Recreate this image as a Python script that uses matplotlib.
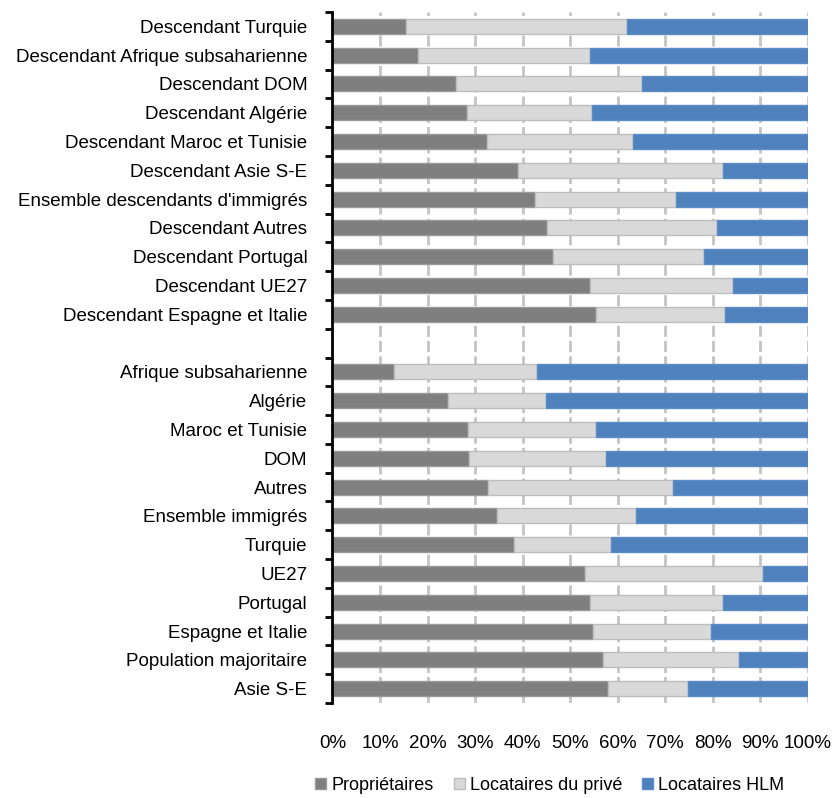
import matplotlib
matplotlib.use("Agg")
import matplotlib.pyplot as plt
from matplotlib.patches import Patch
import numpy as np

plt.rcParams["font.family"] = ["Liberation Sans", "DejaVu Sans"]

# Descendants of immigrants (top block), then immigrants and majority population
categories_desc = [
    "Descendant Turquie",
    "Descendant Afrique subsaharienne",
    "Descendant DOM",
    "Descendant Algérie",
    "Descendant Maroc et Tunisie",
    "Descendant Asie S-E",
    "Ensemble descendants d'immigrés",
    "Descendant Autres",
    "Descendant Portugal",
    "Descendant UE27",
    "Descendant Espagne et Italie",
]
proprietaires_desc = [15.5, 17.9, 25.9, 28.3, 32.5, 39.1, 42.6, 45.1, 46.4, 54.1, 55.4]
prive_desc = [46.4, 36.2, 39.2, 26.4, 30.8, 43.0, 29.7, 35.7, 31.7, 30.2, 27.2]

categories_imm = [
    "Afrique subsaharienne",
    "Algérie",
    "Maroc et Tunisie",
    "DOM",
    "Autres",
    "Ensemble immigrés",
    "Turquie",
    "UE27",
    "Portugal",
    "Espagne et Italie",
    "Population majoritaire",
    "Asie S-E",
]
proprietaires_imm = [12.9, 24.3, 28.5, 28.7, 32.8, 34.7, 38.2, 53.2, 54.2, 54.8, 57.0, 57.9]
prive_imm = [30.2, 20.7, 26.9, 28.9, 38.9, 29.2, 20.3, 37.4, 27.9, 24.8, 28.6, 16.9]

series_names = ["Propriétaires", "Locataires du privé", "Locataires HLM"]
x_ticks = [0, 10, 20, 30, 40, 50, 60, 70, 80, 90, 100]

# Assemble rows with an empty slot separating the two blocks
labels = categories_desc + [""] + categories_imm
prop = np.array(proprietaires_desc + [np.nan] + proprietaires_imm)
prive = np.array(prive_desc + [np.nan] + prive_imm)
hlm = 100 - prop - prive
ypos = np.arange(len(labels))
mask = ~np.isnan(prop)

fig = plt.figure(figsize=(8.32, 7.98), dpi=100)
ax = fig.add_axes([0.3996, 0.119, 0.5713, 0.866])

colors = ["#7f7f7f", "#d9d9d9", "#4f81bd"]
edges = ["#999999", "#bdbdbd", "#5b8cc6"]
bh = 0.52
ax.barh(ypos[mask], prop[mask], height=bh, color=colors[0], edgecolor=edges[0],
        linewidth=1.0, zorder=3)
ax.barh(ypos[mask], prive[mask], left=prop[mask], height=bh, color=colors[1],
        edgecolor=edges[1], linewidth=1.0, zorder=3)
ax.barh(ypos[mask], hlm[mask], left=(prop + prive)[mask], height=bh,
        color=colors[2], edgecolor=edges[2], linewidth=1.0, zorder=3)

ax.set_xlim(0, 100)
ax.set_ylim(len(labels) - 0.5, -0.5)

ax.set_xticks(x_ticks)
ax.set_xticklabels([f"{v}%" for v in x_ticks], fontsize=13.5)
ax.tick_params(axis="x", length=0, pad=23)

ax.set_yticks(ypos)
ax.set_yticklabels(labels, fontsize=13.5)
ax.tick_params(axis="y", which="major", length=0, pad=18)
ax.set_yticks(np.arange(-0.5, len(labels)), minor=True)
ax.tick_params(axis="y", which="minor", length=5, width=2, color="black",
               direction="out")

ax.xaxis.grid(True, color="#c4c4c4", linewidth=2.0, linestyle=(0, (4, 1.5)),
              zorder=0)
ax.yaxis.grid(False)
ax.set_axisbelow(True)

for side in ["top", "right", "bottom"]:
    ax.spines[side].set_visible(False)
ax.spines["left"].set_linewidth(2.0)
ax.spines["left"].set_color("black")
ax.spines["left"].set_zorder(5)

handles = [Patch(facecolor=c, edgecolor=e, linewidth=1.0) for c, e in zip(colors, edges)]
fig.legend(handles, series_names, loc="center", bbox_to_anchor=(0.661, 0.016),
           ncol=3, frameon=False, fontsize=13, handlelength=0.6,
           handleheight=0.6, handletextpad=0.3, columnspacing=1.1)

fig.savefig("out.png", dpi=100)
